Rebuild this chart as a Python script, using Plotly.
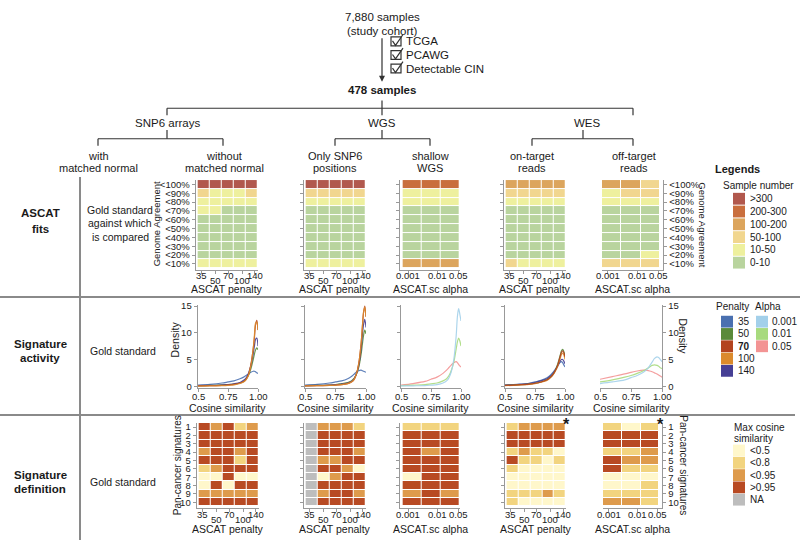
import math
import plotly.graph_objects as go

W, H = 800, 544
FONT = "Liberation Sans, Arial, Helvetica, sans-serif"
TXT = "#1a1a1a"
AX = "#999999"

# ---------------- data ----------------
agreement_labels = ["<100%", "<90%", "<80%", "<70%", "<60%", "<50%", "<40%", "<30%", "<20%", "<10%"]
signature_labels = ["1", "2", "3", "4", "5", "6", "7", "8", "9", "10"]
penalties = [35, 50, 70, 100, 140]
alphas = [0.001, 0.01, 0.05]
penalty_tick_text = ["35", "50", "70", "100", "140"]
alpha_tick_text = ["0.001", "0.01", "0.05"]
cos_tick_vals = [0.5, 0.75, 1.0]
cos_tick_text = ["0.5", "0.75", "1.00"]

sample_bins = [">300", "200-300", "100-200", "50-100", "10-50", "0-10"]
sample_colors = ["#b1584d", "#c96e3d", "#dca55d", "#f1d68f", "#eef09e", "#b9d49e"]

fit_without_normal = [
    [">300", ">300", ">300", ">300", ">300"],
    ["50-100", "10-50", "10-50", "10-50", "50-100"],
    ["10-50", "10-50", "10-50", "10-50", "10-50"],
    ["10-50", "10-50", "0-10", "0-10", "0-10"],
    ["0-10", "0-10", "0-10", "0-10", "0-10"],
    ["0-10", "0-10", "0-10", "0-10", "0-10"],
    ["0-10", "0-10", "0-10", "0-10", "0-10"],
    ["0-10", "0-10", "0-10", "0-10", "0-10"],
    ["0-10", "0-10", "0-10", "0-10", "0-10"],
    ["10-50", "10-50", "10-50", "10-50", "10-50"],
]
fit_snp6_positions = [
    [">300", ">300", ">300", ">300", ">300"],
    ["50-100", "50-100", "50-100", "50-100", "50-100"],
    ["10-50", "10-50", "10-50", "10-50", "10-50"],
    ["0-10", "0-10", "0-10", "0-10", "0-10"],
    ["0-10", "0-10", "0-10", "0-10", "0-10"],
    ["0-10", "0-10", "0-10", "0-10", "0-10"],
    ["0-10", "0-10", "0-10", "0-10", "0-10"],
    ["0-10", "0-10", "0-10", "0-10", "0-10"],
    ["0-10", "0-10", "0-10", "0-10", "0-10"],
    ["10-50", "10-50", "10-50", "10-50", "10-50"],
]
fit_shallow_wgs = [
    ["200-300", "200-300", "200-300"],
    ["10-50", "10-50", "10-50"],
    ["10-50", "10-50", "10-50"],
    ["0-10", "0-10", "0-10"],
    ["0-10", "0-10", "0-10"],
    ["0-10", "0-10", "0-10"],
    ["0-10", "0-10", "0-10"],
    ["0-10", "0-10", "0-10"],
    ["0-10", "0-10", "0-10"],
    ["100-200", "100-200", "100-200"],
]
fit_on_target = [
    ["100-200", "100-200", "100-200", "100-200", "100-200"],
    ["50-100", "50-100", "50-100", "50-100", "50-100"],
    ["10-50", "10-50", "10-50", "10-50", "10-50"],
    ["0-10", "0-10", "0-10", "0-10", "0-10"],
    ["0-10", "0-10", "0-10", "0-10", "0-10"],
    ["0-10", "0-10", "0-10", "0-10", "0-10"],
    ["0-10", "0-10", "0-10", "0-10", "0-10"],
    ["0-10", "0-10", "0-10", "0-10", "0-10"],
    ["0-10", "0-10", "0-10", "0-10", "0-10"],
    ["50-100", "10-50", "10-50", "10-50", "10-50"],
]
fit_off_target = [
    ["100-200", "100-200", "50-100"],
    ["10-50", "50-100", "50-100"],
    ["10-50", "10-50", "10-50"],
    ["0-10", "0-10", "0-10"],
    ["0-10", "0-10", "0-10"],
    ["0-10", "0-10", "0-10"],
    ["0-10", "0-10", "0-10"],
    ["0-10", "0-10", "0-10"],
    ["0-10", "0-10", "10-50"],
    ["50-100", "50-100", "50-100"],
]

# signature activity densities (cosine similarity vs density)
cos_x = [0.5, 0.6, 0.7, 0.75, 0.8, 0.85, 0.88, 0.9, 0.92, 0.94, 0.96, 0.97, 0.98, 0.99, 1.0]
dens_without_normal = {
    35: [0.2, 0.35, 0.6, 0.8, 1.0, 1.4, 1.7, 2.0, 2.3, 2.6, 2.8, 2.8, 2.7, 2.5, 2.4],
    50: [0.1, 0.15, 0.25, 0.3, 0.4, 0.6, 0.9, 1.3, 2.0, 3.2, 5.0, 6.0, 6.8, 7.2, 6.8],
    140: [0.1, 0.15, 0.2, 0.3, 0.45, 0.7, 1.1, 1.5, 2.4, 3.8, 6.0, 7.5, 8.8, 9.0, 7.5],
    70: [0.05, 0.1, 0.15, 0.25, 0.35, 0.6, 0.9, 1.3, 2.2, 4.0, 7.0, 9.0, 11.5, 12.3, 10.5],
    100: [0.02, 0.05, 0.1, 0.15, 0.25, 0.5, 0.8, 1.2, 2.0, 3.8, 7.0, 9.5, 11.8, 12.0, 10.5],
}
dens_snp6_positions = {
    35: [0.2, 0.35, 0.6, 0.8, 1.0, 1.4, 1.8, 2.2, 2.6, 2.9, 3.0, 2.9, 2.8, 2.7, 2.6],
    50: [0.1, 0.15, 0.2, 0.3, 0.5, 0.7, 1.0, 1.4, 2.2, 3.5, 6.0, 7.8, 9.5, 10.5, 9.8],
    140: [0.1, 0.15, 0.2, 0.3, 0.4, 0.6, 0.9, 1.3, 2.2, 3.8, 7.0, 9.5, 11.5, 12.5, 11.0],
    70: [0.05, 0.1, 0.15, 0.2, 0.3, 0.5, 0.8, 1.2, 2.2, 4.2, 8.0, 11.0, 13.8, 15.0, 13.0],
    100: [0.05, 0.1, 0.15, 0.2, 0.3, 0.5, 0.8, 1.2, 2.2, 4.2, 8.0, 11.0, 13.8, 14.8, 13.0],
}
dens_shallow_wgs = {
    0.05: [0.2, 0.5, 0.9, 1.3, 1.7, 2.4, 3.0, 3.5, 4.0, 4.4, 4.6, 4.4, 4.1, 3.8, 3.6],
    0.01: [0.1, 0.2, 0.3, 0.45, 0.6, 1.0, 1.4, 2.0, 3.0, 4.5, 7.0, 8.3, 9.0, 8.5, 7.5],
    0.001: [0.05, 0.08, 0.12, 0.2, 0.3, 0.6, 1.0, 1.6, 2.8, 5.0, 9.5, 13.0, 14.5, 13.5, 12.2],
}
dens_on_target = {
    35: [0.2, 0.35, 0.55, 0.8, 1.1, 1.6, 2.1, 2.6, 3.2, 3.9, 4.5, 4.6, 4.4, 4.0, 3.6],
    140: [0.2, 0.3, 0.5, 0.7, 1.0, 1.4, 1.9, 2.4, 3.0, 3.8, 4.7, 5.0, 5.0, 4.7, 4.2],
    50: [0.15, 0.25, 0.4, 0.55, 0.8, 1.2, 1.7, 2.2, 3.0, 4.2, 5.8, 6.6, 6.9, 6.5, 5.6],
    100: [0.1, 0.2, 0.35, 0.5, 0.75, 1.1, 1.6, 2.1, 2.8, 3.8, 5.2, 5.9, 6.2, 5.9, 5.0],
    70: [0.15, 0.25, 0.4, 0.55, 0.8, 1.2, 1.7, 2.2, 3.0, 4.0, 5.6, 6.3, 6.6, 6.3, 5.5],
}
dens_off_target = {
    0.05: [1.3, 1.8, 2.3, 2.6, 2.85, 3.0, 2.95, 2.85, 2.7, 2.5, 2.3, 2.15, 2.0, 1.85, 1.7],
    0.01: [0.8, 1.2, 1.7, 2.0, 2.4, 2.9, 3.3, 3.6, 3.9, 4.0, 3.9, 3.8, 3.6, 3.4, 3.3],
    0.001: [0.5, 0.8, 1.2, 1.6, 2.0, 2.6, 3.2, 3.8, 4.5, 5.2, 5.5, 5.4, 5.2, 4.9, 4.6],
}
penalty_colors = {35: "#4a70b0", 50: "#5a8a3a", 70: "#b3441f", 100: "#db8a2c", 140: "#463f95"}
alpha_colors = {0.001: "#a3d0ea", 0.01: "#a8da7e", 0.05: "#f39494"}

# signature definition: max cosine similarity bins
cos_bins = ["<0.5", "<0.8", "<0.95", ">0.95", "NA"]
cos_colors = ["#fff7cb", "#f2d47f", "#de9b4c", "#b84a23", "#bdbdbd"]
A, B, C, D, N = "<0.5", "<0.8", "<0.95", ">0.95", "NA"
sig_without_normal = [
    [D, C, D, B, C],
    [D, D, D, D, D],
    [D, D, D, D, D],
    [C, D, D, C, D],
    [D, D, D, B, D],
    [B, C, D, D, D],
    [A, A, D, A, A],
    [A, D, A, D, D],
    [C, C, C, C, C],
    [D, D, D, D, D],
]
sig_snp6_positions = [
    [N, C, C, C, B],
    [N, D, D, D, D],
    [N, D, D, D, D],
    [N, D, D, D, C],
    [N, C, C, D, D],
    [N, D, D, C, A],
    [N, A, C, D, D],
    [N, D, D, D, D],
    [N, C, D, D, C],
    [N, D, D, D, D],
]
sig_shallow_wgs = [
    [B, B, B],
    [D, D, D],
    [D, D, D],
    [D, C, D],
    [D, D, D],
    [D, D, D],
    [A, D, D],
    [D, D, D],
    [C, D, C],
    [D, D, D],
]
sig_on_target = [
    [B, C, C, C, C],
    [D, D, D, D, D],
    [D, D, D, D, D],
    [B, C, B, B, A],
    [D, B, B, A, B],
    [B, A, A, A, A],
    [A, A, A, A, A],
    [A, A, A, A, A],
    [B, B, B, C, B],
    [B, A, A, A, A],
]
sig_off_target = [
    [B, A, B],
    [D, D, D],
    [D, D, D],
    [B, B, C],
    [D, C, C],
    [D, B, B],
    [A, A, A],
    [A, A, B],
    [B, B, B],
    [C, C, B],
]

# ---------------- helpers ----------------
traces, annotations, shapes = [], [], []
layout_axes = {}
axis_style = dict(showline=True, linecolor=AX, linewidth=1.4, ticks="outside", ticklen=3,
                  tickcolor=AX, tickwidth=1, showgrid=False, zeroline=False, fixedrange=True,
                  tickfont=dict(size=9.5, family=FONT, color=TXT))


def X(px):
    return px / W


def Y(py):
    return 1 - py / H


def txt(xp, yp, s, size=10.5, xanchor="center", angle=0, bold=False, lh=None, color=TXT):
    lines = s.split("\n")
    if lh is None:
        lh = size * 1.2
    n = len(lines)
    for k, ln in enumerate(lines):
        if bold:
            ln = "<b>" + ln + "</b>"
        yy = yp + (k - (n - 1) / 2) * lh
        annotations.append(dict(x=X(xp), y=Y(yy), xref="paper", yref="paper", text=ln,
                                showarrow=False, xanchor=xanchor, yanchor="middle",
                                textangle=angle, borderpad=0,
                                font=dict(size=size, family=FONT, color=color)))


def line(x0, y0, x1, y1, color="#333333", w=1.2):
    shapes.append(dict(type="line", xref="paper", yref="paper", x0=X(x0), y0=Y(y0),
                       x1=X(x1), y1=Y(y1), line=dict(color=color, width=w)))


def rect(x0, y0, x1, y1, fill, lc=None, lw=0):
    shapes.append(dict(type="rect", xref="paper", yref="paper", x0=X(x0), y0=Y(y0),
                       x1=X(x1), y1=Y(y1), fillcolor=fill,
                       line=dict(color=lc or fill, width=lw)))


n_ax = [0]


def new_axes(x0, x1, ytop, ybot, xkw, ykw):
    n_ax[0] += 1
    i = n_ax[0]
    s = "" if i == 1 else str(i)
    layout_axes["xaxis" + s] = {**axis_style, **xkw, "domain": [X(x0), X(x1)], "anchor": "y" + s}
    layout_axes["yaxis" + s] = {**axis_style, **ykw, "domain": [Y(ybot), Y(ytop)], "anchor": "x" + s}
    return "x" + s, "y" + s


def discrete_scale(colors):
    n = len(colors)
    cs = []
    for i, c in enumerate(colors):
        cs.append([i / n, c])
        cs.append([(i + 1) / n, c])
    return cs


def penalty_pos(v):
    return -0.15 + 4.4 * math.log(v / penalties[0]) / math.log(penalties[-1] / penalties[0])


def alpha_pos(v):
    return -0.2 + 2.6 * math.log(v / alphas[0]) / math.log(alphas[-1] / alphas[0])


def tick_label(xa, v, t, ypix):
    annotations.append(dict(x=v, y=Y(ypix), xref=xa, yref="paper",
                            text=t, showarrow=False, xanchor="center", yanchor="middle",
                            borderpad=0, font=dict(size=9.5, family=FONT, color=TXT)))


def heat_panel(x0, x1, ytop, ybot, grid, bins, colors, kind, ylabels, yside, tick_dy):
    nrow, ncol = len(grid), len(grid[0])
    z = [[bins.index(v) for v in row] for row in grid]
    pad = 0.14
    if yside == "right":
        xr = [-0.5, ncol - 0.5 + pad]
    else:
        xr = [-0.5 - pad, ncol - 0.5]
    if kind == "penalty":
        tv = [penalty_pos(v) for v in penalties]
        tt = penalty_tick_text
        stagger = [0, 1, 0, 1, 0]
        title = "ASCAT penalty"
    else:
        tv = [alpha_pos(v) for v in alphas]
        tt = alpha_tick_text
        stagger = [0, 0, 0]
        title = "ASCAT.sc alpha"
    xkw = dict(range=xr, tickvals=tv, showticklabels=False)
    ykw = dict(range=[nrow - 0.5 + pad, -0.5], tickvals=list(range(nrow)),
               ticktext=ylabels if ylabels else [""] * nrow,
               showticklabels=bool(ylabels), side=yside)
    xa, ya = new_axes(x0, x1, ytop, ybot, xkw, ykw)
    traces.append(go.Heatmap(z=z, x=list(range(ncol)), y=list(range(nrow)),
                             colorscale=discrete_scale(colors), zmin=-0.5, zmax=len(bins) - 0.5,
                             showscale=False, xgap=1, ygap=1, hoverinfo="skip",
                             xaxis=xa, yaxis=ya))
    for v, t, st in zip(tv, tt, stagger):
        tick_label(xa, v, t, ybot + tick_dy[0] + st * tick_dy[1])
    txt((x0 + x1) / 2, ybot + tick_dy[2], title, size=10.5)
    return xa, ya


def dens_panel(x0, x1, ytop, ybot, series, colors, yside, show_labels):
    xkw = dict(range=[0.5, 1.0], tickvals=cos_tick_vals, showticklabels=False)
    ykw = dict(range=[-0.25, 15.2], tickvals=[0, 5, 10, 15], showticklabels=show_labels, side=yside)
    xa, ya = new_axes(x0, x1, ytop, ybot, xkw, ykw)
    for key, vals in series.items():
        traces.append(go.Scatter(x=cos_x, y=vals, mode="lines", xaxis=xa, yaxis=ya,
                                 line=dict(color=colors[key], width=1.2, shape="spline", smoothing=0.9),
                                 opacity=0.9, hoverinfo="skip", cliponaxis=False))
    for v, t in zip(cos_tick_vals, cos_tick_text):
        tick_label(xa, v, t, ybot + 9)
    txt((x0 + x1) / 2, ybot + 20.5, "Cosine similarity", size=10.5)


# ---------------- flowchart ----------------
txt(382, 12, "7,880 samples", size=11.5)
txt(382, 26, "(study cohort)", size=11.5)
annotations.append(dict(x=X(382), y=Y(78), xref="paper", yref="paper", ax=0, ay=-45,
                        axref="pixel", ayref="pixel", text="", showarrow=True,
                        arrowhead=2, arrowsize=1, arrowwidth=1.2, arrowcolor="#333333"))
for k, lab in enumerate(["TCGA", "PCAWG", "Detectable CIN"]):
    yc = 37 + k * 13.8
    rect(391, yc - 4.5, 401, yc + 4.5, "rgba(0,0,0,0)", "#333333", 1.2)
    shapes.append(dict(type="path", xref="paper", yref="paper",
                       path="M %f,%f L %f,%f L %f,%f" % (X(392.5), Y(yc - 0.5), X(395.5), Y(yc + 4),
                                                         X(403), Y(yc - 7)),
                       line=dict(color="#333333", width=1.2)))
    txt(405, yc, lab, size=11.5, xanchor="left")
txt(382, 86, "478 samples", size=11.5, bold=True)

line(382, 97, 382, 112)
line(167, 105, 633, 105)
line(167, 105, 167, 112)
line(633, 105, 633, 112)
txt(167, 120, "SNP6 arrays", size=11.5)
txt(382, 120, "WGS", size=11.5)
txt(587, 120, "WES", size=11.5)
for cx, l, r in [(167, 98, 223), (382, 335, 430), (583, 532, 633)]:
    line(cx, 127, cx, 136)
    line(l, 136, r, 136)
    line(l, 136, l, 143)
    line(r, 136, r, 143)
for cx, s in [(98, "with\nmatched normal"), (224, "without\nmatched normal"),
              (335, "Only SNP6\npositions"), (430, "shallow\nWGS"),
              (532, "on-target\nreads"), (634, "off-target\nreads")]:
    txt(cx, 160, s, size=11, lh=12.5)

# ---------------- separators & row headers ----------------
line(0, 297, 800, 297, color="#8a8a8a", w=2)
line(0, 417, 795, 417, color="#8a8a8a", w=2)
line(80, 175, 80, 544, color="#8a8a8a", w=2)
txt(40, 220, "ASCAT\nfits", size=11.5, bold=True, lh=16)
txt(120, 222, "Gold standard\nagainst which\nis compared", size=10.5, lh=13.5)
txt(40, 352, "Signature\nactivity", size=11.5, bold=True, lh=14)
txt(123, 352, "Gold standard", size=10.5)
txt(40, 485, "Signature\ndefinition", size=11.5, bold=True, lh=14)
txt(123, 485, "Gold standard", size=10.5)

# ---------------- row 1: ASCAT fits ----------------
r1 = (178, 269)
d1 = (6, 5, 19.5)
heat_panel(196, 258, r1[0], r1[1], fit_without_normal, sample_bins, sample_colors, "penalty",
           agreement_labels, "left", d1)
heat_panel(304, 366, r1[0], r1[1], fit_snp6_positions, sample_bins, sample_colors, "penalty",
           None, "left", d1)
heat_panel(400, 460, r1[0], r1[1], fit_shallow_wgs, sample_bins, sample_colors, "alpha",
           None, "left", d1)
heat_panel(504, 566, r1[0], r1[1], fit_on_target, sample_bins, sample_colors, "penalty",
           None, "left", d1)
heat_panel(602, 663, r1[0], r1[1], fit_off_target, sample_bins, sample_colors, "alpha",
           agreement_labels, "right", d1)
txt(156, 223, "Genome Agreement", size=9.5, angle=-90)
txt(703, 223, "Genome Agreement", size=9.5, angle=90)

# ---------------- row 2: signature activity ----------------
r2 = (305, 389)
dens_panel(198, 258, r2[0], r2[1], dens_without_normal, penalty_colors, "left", True)
dens_panel(305, 366, r2[0], r2[1], dens_snp6_positions, penalty_colors, "left", False)
dens_panel(401, 461, r2[0], r2[1], dens_shallow_wgs, alpha_colors, "left", False)
dens_panel(505, 565, r2[0], r2[1], dens_on_target, penalty_colors, "left", False)
dens_panel(600, 662, r2[0], r2[1], dens_off_target, alpha_colors, "right", True)
txt(175, 340, "Density", size=10.5, angle=-90)
txt(683, 337, "Density", size=10.5, angle=90)

# ---------------- row 3: signature definition ----------------
r3 = (425, 511)
d3 = (7, 5.5, 22)
heat_panel(197, 259, r3[0], r3[1], sig_without_normal, cos_bins, cos_colors, "penalty",
           signature_labels, "left", d3)
heat_panel(304, 366, r3[0], r3[1], sig_snp6_positions, cos_bins, cos_colors, "penalty",
           None, "left", d3)
heat_panel(400, 460, r3[0], r3[1], sig_shallow_wgs, cos_bins, cos_colors, "alpha",
           None, "left", d3)
heat_panel(505, 566, r3[0], r3[1], sig_on_target, cos_bins, cos_colors, "penalty",
           None, "left", d3)
heat_panel(603, 662, r3[0], r3[1], sig_off_target, cos_bins, cos_colors, "alpha",
           signature_labels, "right", d3)
txt(177, 468, "Pan-cancer signatures", size=10, angle=-90)
txt(684, 468, "Pan-cancer signatures", size=10, angle=90)
txt(566, 427, "*", size=16, bold=True)
txt(660, 427, "*", size=16, bold=True)

# ---------------- legends ----------------
txt(737, 167, "Legends", size=11, bold=True)
txt(722, 184, "Sample number", size=10, xanchor="left")
for k, (lab, col) in enumerate(zip(sample_bins, sample_colors)):
    yc = 197 + k * 13
    rect(733, yc - 6, 745, yc + 6, col)
    txt(749, yc, lab, size=10, xanchor="left")

txt(715, 307, "Penalty", size=10, xanchor="left")
txt(754, 307, "Alpha", size=10, xanchor="left")
for k, p in enumerate(penalties):
    yc = 322 + k * 12.5
    rect(721, yc - 6, 733, yc + 6, penalty_colors[p])
    txt(737, yc, str(p), size=10, xanchor="left", bold=(p == 70))
for k, a in enumerate(alphas):
    yc = 322 + k * 12.5
    rect(756, yc - 6, 768, yc + 6, alpha_colors[a])
    txt(771, yc, alpha_tick_text[k], size=10, xanchor="left")

txt(733, 430, "Max cosine", size=10, xanchor="left")
txt(733, 441, "similarity", size=10, xanchor="left")
for k, (lab, col) in enumerate(zip(cos_bins, cos_colors)):
    yc = 453 + k * 12.5
    rect(733, yc - 6, 745, yc + 6, col)
    txt(749, yc, lab, size=10, xanchor="left")

fig = go.Figure(data=traces)
fig.update_layout(width=W, height=H, margin=dict(l=0, r=0, t=0, b=0),
                  paper_bgcolor="white", plot_bgcolor="white", showlegend=False,
                  annotations=annotations, shapes=shapes,
                  font=dict(family=FONT, size=10, color=TXT), **layout_axes)
fig.write_html("out.html", config={"displayModeBar": False, "staticPlot": True},
               post_script="document.body.style.margin='0';document.body.style.padding='0';")
